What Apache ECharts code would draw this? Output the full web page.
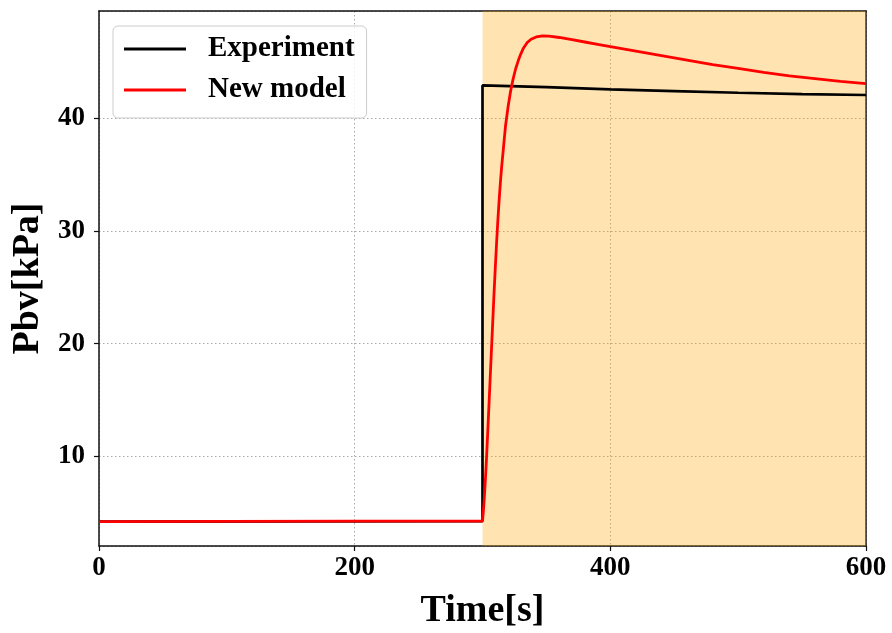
<!DOCTYPE html>
<html>
<head>
<meta charset="utf-8">
<script src="https://cdn.jsdelivr.net/npm/echarts@6/dist/echarts.min.js"></script>
<style>
  html, body { margin: 0; padding: 0; background: #ffffff; }
  #chart { width: 892px; height: 633px; }
</style>
</head>
<body>
<div id="chart"></div>
<script>
// Measured bypass-valve pressure vs. model response
const expTime = [0, 150, 300, 300, 350, 400, 450, 500, 550, 600];
const expPbv  = [4.2, 4.22, 4.25, 42.9, 42.75, 42.55, 42.4, 42.25, 42.12, 42.05];

const modelTime = [0, 100, 200, 300, 301, 302, 303, 304, 305, 306, 307, 308, 309, 310,
  311, 312, 313, 314, 315, 316, 318, 320, 322, 324, 326, 328, 330, 332, 335, 338,
  342, 347, 352, 360, 370, 380, 390, 400, 420, 440, 460, 480, 500, 520, 540, 560, 580, 600];
const modelPbv = [4.2, 4.22, 4.24, 4.25, 5.6, 7.4, 9.5, 11.9, 14.4, 16.9, 19.4, 21.9, 24.4, 26.7,
  28.9, 30.9, 32.7, 34.3, 35.7, 36.9, 39.3, 41.0, 42.4, 43.5, 44.4, 45.1, 45.7, 46.2, 46.7, 47.0,
  47.2, 47.3, 47.28, 47.15, 46.95, 46.75, 46.55, 46.35, 45.95, 45.55, 45.15, 44.75, 44.4, 44.05,
  43.75, 43.5, 43.25, 43.05];

const shadedSpan = [300, 600];
const xTicks = [0, 200, 400, 600];
const yTicks = [10, 20, 30, 40];

const seriesNames = ['Experiment', 'New model'];

const font = '"Liberation Serif", "Times New Roman", serif';

const pairs = (xs, ys) => xs.map((x, i) => [x, ys[i]]);

const frameLine = { show: true, onZero: false, lineStyle: { color: '#111111', width: 1.5 } };
const gridDots = { show: true, lineStyle: { color: '#a8a8a8', width: 1, type: [1.5, 2.5] } };

const chart = echarts.init(document.getElementById('chart'), null, { renderer: 'canvas' });

chart.setOption({
  animation: false,
  backgroundColor: '#ffffff',
  grid: { left: 99, right: 26, top: 11, bottom: 87, containLabel: false, outerBoundsMode: 'none' },
  legend: {
    data: seriesNames.map(n => ({ name: n, icon: 'rect' })),
    orient: 'vertical',
    left: 113, top: 26,
    padding: [8, 12, 13, 11],
    itemWidth: 62, itemHeight: 3, itemGap: 11,
    backgroundColor: 'rgba(255,255,255,0.8)',
    borderColor: '#cccccc', borderWidth: 1, borderRadius: 5,
    textStyle: {
      fontFamily: font, fontWeight: 'bold', fontSize: 29, color: '#000000',
      lineHeight: 30, padding: [0, 0, 0, 17]
    }
  },
  xAxis: [
    {
      type: 'value', min: 0, max: 600, interval: 200,
      name: 'Time[s]', nameLocation: 'middle', nameGap: 46,
      nameTextStyle: { fontFamily: font, fontWeight: 'bold', fontSize: 38, color: '#000000' },
      axisLine: frameLine,
      axisTick: { show: true, length: 5, lineStyle: { color: '#111111', width: 1.2 } },
      axisLabel: {
        margin: 9, fontFamily: font, fontWeight: 'bold', fontSize: 27, color: '#000000',
        formatter: v => xTicks.includes(v) ? String(v) : ''
      },
      splitLine: gridDots
    },
    {
      // top frame edge
      type: 'value', position: 'top', min: 0, max: 600, interval: 200,
      axisLine: frameLine, axisTick: { show: false }, axisLabel: { show: false },
      splitLine: { show: false }
    }
  ],
  yAxis: [
    {
      type: 'value', min: 2.04, max: 49.5, splitNumber: 5,
      name: 'Pbv[kPa]', nameLocation: 'middle', nameGap: 50,
      nameTextStyle: { fontFamily: font, fontWeight: 'bold', fontSize: 38, color: '#000000' },
      axisLine: frameLine,
      axisTick: { show: true, length: 5, lineStyle: { color: '#111111', width: 1.2 } },
      axisLabel: {
        margin: 14, fontFamily: font, fontWeight: 'bold', fontSize: 27, color: '#000000',
        showMinLabel: false, showMaxLabel: false,
        formatter: v => yTicks.includes(Math.round(v * 1000) / 1000) ? String(Math.round(v)) : ''
      },
      splitLine: gridDots
    },
    {
      // right frame edge
      type: 'value', position: 'right', min: 2.04, max: 49.5, splitNumber: 5,
      axisLine: frameLine, axisTick: { show: false }, axisLabel: { show: false },
      splitLine: { show: false }
    }
  ],
  series: [
    {
      name: seriesNames[0],
      type: 'line',
      data: pairs(expTime, expPbv),
      showSymbol: false, symbol: 'none',
      lineStyle: { color: '#000000', width: 2.7 },
      itemStyle: { color: '#000000' },
      z: 3,
      markArea: {
        silent: true,
        itemStyle: { color: 'rgba(255,165,0,0.3)' },
        data: [[{ xAxis: shadedSpan[0] }, { xAxis: shadedSpan[1] }]]
      }
    },
    {
      name: seriesNames[1],
      type: 'line',
      data: pairs(modelTime, modelPbv),
      showSymbol: false, symbol: 'none',
      lineStyle: { color: '#ff0000', width: 2.8 },
      itemStyle: { color: '#ff0000' },
      z: 4
    }
  ]
});
</script>
</body>
</html>
